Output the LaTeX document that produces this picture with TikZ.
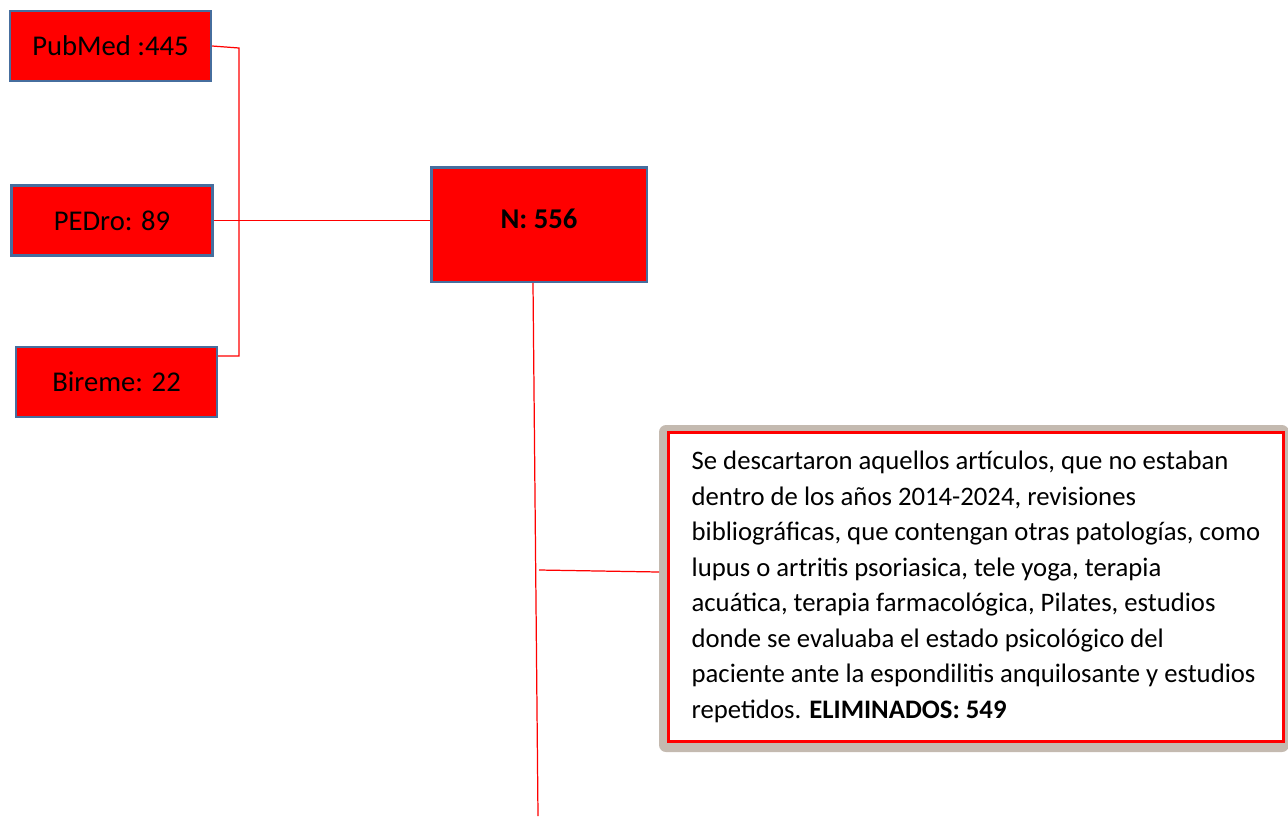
\documentclass[tikz,border=0pt]{standalone}
\usepackage{fontspec}
\setmainfont{Carlito}
\usetikzlibrary{calc}
\definecolor{boxred}{RGB}{255,0,0}
\definecolor{boxblue}{RGB}{70,110,158}
\definecolor{shadowgray}{RGB}{196,186,176}
\tikzset{
  src/.style={draw=boxblue,line width=1.4pt,fill=boxred,minimum width=4.02cm,minimum height=1.4cm,font=\fontsize{16.3}{19}\selectfont},
  tot/.style={src,minimum width=4.31cm,minimum height=2.29cm,text depth=7pt},
  info/.style={draw=boxred,line width=1.7pt,fill=white,minimum width=12.3cm,minimum height=6.18cm,align=left,font=\fontsize{15.2}{20.2}\selectfont},
  link/.style={draw=boxred,line width=0.7pt}
}

\begin{document}
\begin{tikzpicture}[x=0.02cm,y=-0.02cm]
\useasboundingbox (0,0) rectangle (1288,816);
\node[src] (pub) at (110.5,46) {PubMed :445};
\node[src] (ped) at (112,220.5) {PEDro: 89};
\node[src] (bir) at (116.5,382) {Bireme: 22};
\node[tot] (n) at (539,224.5) {\textbf{N: 556}};
\fill[shadowgray,rounded corners=4pt] (659,425) rectangle (1289,752);
\node[info] (desc) at (976,587) {Se descartaron aquellos artículos, que no estaban\\
dentro de los años 2014-2024, revisiones\\
bibliográficas, que contengan otras patologías, como\\
lupus o artritis psoriasica, tele yoga, terapia\\
acuática, terapia farmacológica, Pilates, estudios\\
donde se evaluaba el estado psicológico del\\
paciente ante la espondilitis anquilosante y estudios\\
repetidos. \textbf{ELIMINADOS: 549}};
\coordinate (bt) at (239,48);
\coordinate (bb) at (239,356);
\coordinate (end) at (538,816);
\coordinate (br) at (539,570);
\coordinate (dw) at (659,572);
\draw[link] (pub.east) -- (bt) -- (bb) -- (bir.east |- bb);
\draw[link] (ped.east) -- (ped.east -| n.west);
\draw[link] ([xshift=-0.12cm]n.south) -- (end);
\draw[link] (br) -- (dw);
\end{tikzpicture}
\end{document}
